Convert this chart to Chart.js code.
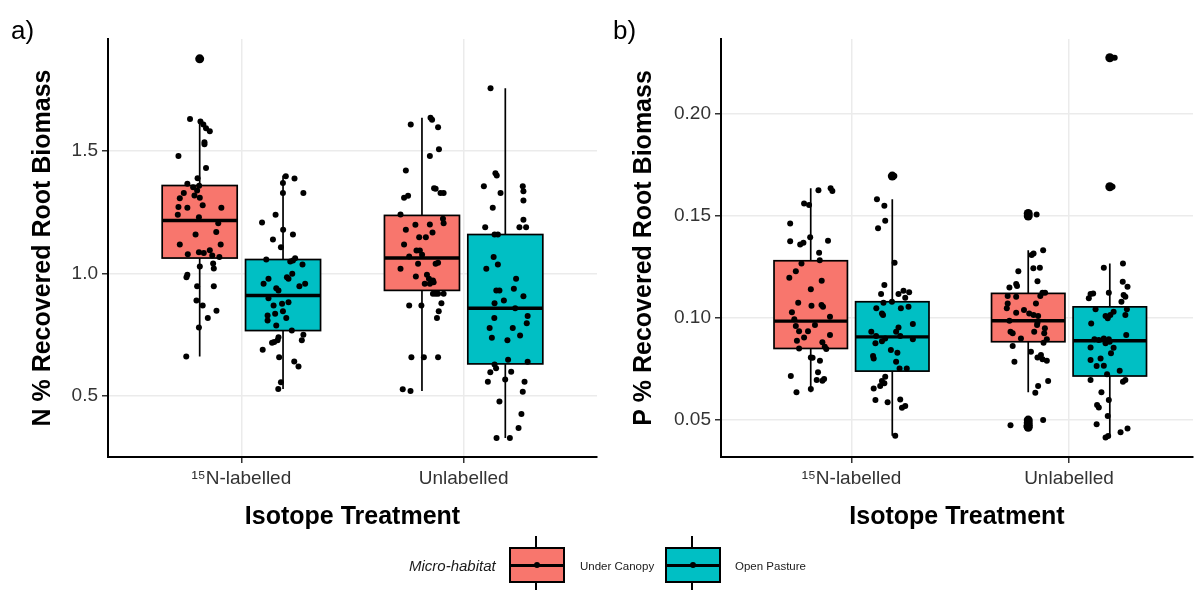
<!DOCTYPE html>
<html>
<head>
<meta charset="utf-8">
<script src="https://cdn.jsdelivr.net/npm/chart.js@4.4.0/dist/chart.umd.min.js"></script>
<style>
  body { margin: 0; background: #fff; font-family: 'Liberation Sans', Arial, sans-serif; }
  #wrap { position: relative; width: 1196px; height: 590px; overflow: hidden; }
  canvas { position: absolute; top: 0; }
  .tag { position: absolute; top: 16px; font-size: 26px; line-height: 28px; color: #000; }
  .leg { position: absolute; color: #1a1a1a; line-height: 20px; white-space: nowrap; }
  .key { position: absolute; top: 547px; width: 52px; height: 32px; border: 2px solid #000; }
  .key .med { position: absolute; left: 0; right: 0; top: 50%; height: 3px; margin-top: -1.5px; background: #000; }
  .key .dot { position: absolute; left: 50%; top: 50%; width: 6px; height: 6px; margin: -3px 0 0 -3px; border-radius: 3px; background: #000; }
  .wh { position: absolute; width: 2px; background: #000; }
</style>
</head>
<body>
<div id="wrap">
  <canvas id="n-chart" width="600" height="590" style="left:0;width:600px;height:590px"></canvas>
  <canvas id="p-chart" width="596" height="590" style="left:600px;width:596px;height:590px"></canvas>
  <div class="tag" style="left:11px">a)</div>
  <div class="tag" style="left:613px">b)</div>

  <div class="leg" style="left:409px;top:556px;font-size:15px;font-style:italic">Micro-habitat</div>
  <div class="wh" style="left:535px;top:536px;height:12px"></div>
  <div class="wh" style="left:535px;top:582px;height:8px"></div>
  <div class="key" style="left:509px;background:#F8766D"><div class="med"></div><div class="dot"></div></div>
  <div class="leg" style="left:580px;top:556px;font-size:11.5px">Under Canopy</div>
  <div class="wh" style="left:691px;top:536px;height:12px"></div>
  <div class="wh" style="left:691px;top:582px;height:8px"></div>
  <div class="key" style="left:665px;background:#00BFC4"><div class="med"></div><div class="dot"></div></div>
  <div class="leg" style="left:735px;top:556px;font-size:11.5px">Open Pasture</div>
</div>

<script>
// categories on the x axis, habitats = fill groups
var categories = ['\u00B9\u2075N-labelled', 'Unlabelled'];
var habitats = ['Under Canopy', 'Open Pasture'];

// box stats per category: [lower whisker, q1, median, q3, upper whisker]
var nCanopyBox  = [[0.661, 1.063, 1.216, 1.359, 1.631], [0.520, 0.931, 1.063, 1.237, 1.636]];
var nPastureBox = [[0.529, 0.767, 0.910, 1.057, 1.400], [0.329, 0.631, 0.858, 1.159, 1.756]];
var pCanopyBox  = [[0.0636, 0.0851, 0.0985, 0.1281, 0.1636], [0.0636, 0.0884, 0.0987, 0.1121, 0.1333]];
var pPastureBox = [[0.0423, 0.0740, 0.0908, 0.1080, 0.1582], [0.0415, 0.0716, 0.0889, 0.1055, 0.1268]];

// outliers per category
var nCanopyOut  = [[1.876], []];
var nPastureOut = [[], []];
var pCanopyOut  = [[], [0.1513, 0.1500, 0.0500, 0.0487, 0.0475, 0.0465]];
var pPastureOut = [[0.1696], [0.2276, 0.1644]];

// jittered observations [x, value]
var nCanopyPts = [
  [0.769,1.631],[0.816,1.620],[0.829,1.608],[0.841,1.593],[0.858,1.580],[0.834,1.536],[0.834,1.527],[0.717,1.479],
  [0.841,1.430],[0.803,1.389],[0.757,1.366],[0.783,1.352],[0.810,1.358],[0.801,1.339],[0.741,1.328],[0.723,1.307],
  [0.789,1.318],[0.813,1.309],[0.717,1.271],[0.757,1.268],[0.826,1.278],[0.910,1.268],[0.714,1.240],[0.809,1.230],
  [0.896,1.205],[0.794,1.159],[0.887,1.169],[0.723,1.118],[0.907,1.118],[0.759,1.078],[0.809,1.087],[0.831,1.084],
  [0.858,1.095],[0.869,1.073],[0.901,1.067],[0.813,1.029],[0.873,1.041],[0.876,1.020],[0.757,0.995],[0.753,0.985],
  [0.801,0.948],[0.876,0.948],[0.798,0.890],[0.826,0.869],[0.888,0.848],[0.849,0.818],[0.809,0.780],[0.752,0.661],
  [0.815,1.876],
  [1.762,1.608],[1.851,1.636],[1.858,1.627],[1.885,1.597],[1.889,1.507],[1.848,1.479],[1.740,1.420],[1.867,1.348],
  [1.874,1.346],[1.896,1.328],[1.910,1.328],[1.732,1.309],[1.750,1.317],[1.716,1.241],[1.907,1.223],[1.910,1.205],
  [1.783,1.199],[1.848,1.200],[1.740,1.178],[1.860,1.167],[1.800,1.148],[1.830,1.148],[1.732,1.118],[1.788,1.094],
  [1.803,1.094],[1.813,1.076],[1.755,1.069],[1.795,1.040],[1.716,1.019],[1.874,1.040],[1.885,1.044],[1.785,0.988],
  [1.835,0.995],[1.844,0.978],[1.862,0.971],[1.825,0.958],[1.848,0.958],[1.865,0.964],[1.874,0.917],[1.885,0.917],
  [1.910,0.917],[1.862,0.917],[1.755,0.869],[1.810,0.869],[1.900,0.879],[1.888,0.846],[1.880,0.818],[1.765,0.658],
  [1.821,0.658],[1.885,0.658],[1.726,0.528],[1.761,0.520]
];
var nPasturePts = [
  [1.200,1.397],[1.187,1.369],[1.239,1.388],[1.187,1.328],[1.279,1.328],[1.154,1.240],[1.093,1.208],[1.188,1.178],
  [1.232,1.159],[1.142,1.139],[1.178,1.107],[1.112,1.057],[1.220,1.049],[1.232,1.053],[1.242,1.062],[1.275,1.037],
  [1.229,0.999],[1.205,0.985],[1.212,0.978],[1.122,0.978],[1.100,0.958],[1.157,0.940],[1.167,0.931],[1.261,0.948],
  [1.287,0.958],[1.122,0.899],[1.212,0.883],[1.183,0.876],[1.145,0.869],[1.118,0.829],[1.152,0.836],[1.187,0.846],
  [1.202,0.818],[1.118,0.808],[1.157,0.788],[1.227,0.767],[1.167,0.740],[1.163,0.727],[1.279,0.750],[1.272,0.727],
  [1.138,0.717],[1.148,0.720],[1.096,0.689],[1.170,0.658],[1.238,0.641],[1.257,0.620],[1.178,0.556],[1.166,0.529],
  [2.121,1.756],[2.143,1.409],[2.149,1.400],[2.091,1.356],[2.166,1.328],[2.266,1.356],[2.269,1.336],[2.269,1.298],
  [2.131,1.268],[2.269,1.219],[2.097,1.189],[2.251,1.189],[2.281,1.189],[2.139,1.159],[2.154,1.159],[2.135,1.067],
  [2.154,1.037],[2.102,1.019],[2.236,0.978],[2.226,0.938],[2.147,0.931],[2.161,0.931],[2.269,0.907],[2.181,0.890],
  [2.139,0.879],[2.232,0.858],[2.288,0.826],[2.138,0.818],[2.284,0.797],[2.117,0.778],[2.221,0.778],[2.254,0.747],
  [2.127,0.738],[2.197,0.728],[2.200,0.648],[2.288,0.640],[2.139,0.629],[2.146,0.613],[2.120,0.597],[2.214,0.599],
  [2.109,0.558],[2.187,0.567],[2.274,0.558],[2.266,0.517],[2.161,0.478],[2.260,0.427],[2.247,0.369],[2.148,0.329],
  [2.208,0.329]
];
var pCanopyPts = [
  [0.848,0.1627],[0.904,0.1636],[0.912,0.1623],[0.782,0.1562],[0.805,0.1554],[0.718,0.1464],[0.810,0.1396],[0.718,0.1377],
  [0.764,0.1361],[0.779,0.1369],[0.892,0.1379],[0.851,0.1320],[0.854,0.1284],[0.770,0.1268],[0.744,0.1230],[0.714,0.1198],
  [0.863,0.1183],[0.813,0.1141],[0.755,0.1075],[0.816,0.1060],[0.862,0.1064],[0.869,0.1055],[0.726,0.1028],[0.901,0.1006],
  [0.737,0.0994],[0.744,0.0961],[0.832,0.0966],[0.759,0.0936],[0.800,0.0936],[0.782,0.0905],[0.901,0.0917],[0.749,0.0889],
  [0.866,0.0881],[0.759,0.0851],[0.877,0.0859],[0.884,0.0848],[0.813,0.0807],[0.821,0.0805],[0.855,0.0791],[0.721,0.0716],
  [0.846,0.0734],[0.874,0.0701],[0.866,0.0693],[0.840,0.0696],[0.813,0.0652],[0.747,0.0636],
  [1.881,0.1333],[1.828,0.1309],[1.837,0.1317],[1.767,0.1230],[1.836,0.1244],[1.866,0.1247],[1.855,0.1181],[1.726,0.1150],
  [1.757,0.1167],[1.761,0.1157],[1.878,0.1124],[1.890,0.1124],[1.718,0.1108],[1.757,0.1104],[1.868,0.1108],[1.718,0.1072],
  [1.848,0.1072],[1.714,0.1048],[1.757,0.1026],[1.793,0.1039],[1.817,0.1023],[1.837,0.1015],[1.858,0.1010],[1.726,0.0987],
  [1.855,0.0977],[1.853,0.0966],[1.889,0.0950],[1.886,0.0925],[1.731,0.0933],[1.741,0.0925],[1.840,0.0933],[1.898,0.0896],
  [1.779,0.0900],[1.883,0.0879],[1.741,0.0863],[1.825,0.0835],[1.855,0.0807],[1.871,0.0819],[1.878,0.0798],[1.898,0.0791],
  [1.749,0.0786],[1.904,0.0691],[1.858,0.0667],[1.845,0.0634],[1.731,0.0475],[1.881,0.0500],[1.815,0.0490],[1.805,0.0470],
  [1.851,0.1508],[1.810,0.1512]
];
var pPasturePts = [
  [1.197,0.1696],[1.117,0.1582],[1.151,0.1550],[1.155,0.1477],[1.122,0.1440],[1.198,0.1271],[1.151,0.1162],[1.136,0.1118],
  [1.216,0.1118],[1.239,0.1134],[1.265,0.1126],[1.247,0.1100],[1.147,0.1075],[1.186,0.1080],[1.262,0.1055],[1.227,0.1048],
  [1.114,0.1048],[1.145,0.1015],[1.140,0.1023],[1.282,0.0971],[1.216,0.0954],[1.205,0.0933],[1.091,0.0933],[1.113,0.0912],
  [1.224,0.0912],[1.282,0.0896],[1.155,0.0900],[1.110,0.0876],[1.140,0.0887],[1.181,0.0843],[1.211,0.0830],[1.099,0.0814],
  [1.102,0.0802],[1.205,0.0786],[1.221,0.0753],[1.254,0.0753],[1.155,0.0712],[1.140,0.0691],[1.151,0.0680],[1.132,0.0667],
  [1.102,0.0655],[1.110,0.0598],[1.166,0.0587],[1.224,0.0601],[1.247,0.0569],[1.232,0.0560],[1.201,0.0423],
  [2.210,0.2276],[2.200,0.1644],
  [2.248,0.1268],[2.160,0.1247],[2.183,0.1124],[2.247,0.1178],[2.269,0.1153],[2.099,0.1118],[2.111,0.1121],[2.091,0.1097],
  [2.251,0.1113],[2.259,0.1104],[2.241,0.1080],[2.122,0.1043],[2.205,0.1031],[2.266,0.1043],[2.259,0.1015],[2.168,0.1010],
  [2.190,0.1015],[2.178,0.0999],[2.102,0.0974],[2.263,0.0917],[2.183,0.0896],[2.160,0.0900],[2.137,0.0892],[2.117,0.0896],
  [2.168,0.0876],[2.187,0.0884],[2.099,0.0856],[2.205,0.0854],[2.193,0.0827],[2.099,0.0794],[2.145,0.0802],[2.127,0.0765],
  [2.160,0.0766],[2.233,0.0742],[2.175,0.0725],[2.099,0.0696],[2.259,0.0696],[2.248,0.0688],[2.149,0.0636],[2.183,0.0598],
  [2.129,0.0574],[2.137,0.0562],[2.178,0.0520],[2.127,0.0479],[2.237,0.0440],[2.269,0.0459],[2.168,0.0415],[2.180,0.0422]
];

var nTicks = [0.5, 1.0, 1.5];
var pTicks = [0.05, 0.10, 0.15, 0.20];

var canopyColor = '#F8766D', pastureColor = '#00BFC4';
var dodge = 0.1875, boxHalf = 0.16875;
var fontFamily = "'Liberation Sans', Arial, sans-serif";

// draws the boxplots under the jittered points, through the chart's scales
function boxLayer(groups) {
  return {
    id: 'boxLayer',
    beforeDatasetsDraw: function (chart) {
      var ctx = chart.ctx, xs = chart.scales.x, ys = chart.scales.y, a = chart.chartArea;
      ctx.save();
      ctx.beginPath();
      ctx.rect(a.left, a.top, a.right - a.left, a.bottom - a.top);
      ctx.clip();
      groups.forEach(function (g) {
        g.stats.forEach(function (s, i) {
          var c = i + 1 + g.shift;
          var cx = xs.getPixelForValue(c);
          var x0 = xs.getPixelForValue(c - boxHalf), x1 = xs.getPixelForValue(c + boxHalf);
          var lo = ys.getPixelForValue(s[0]), q1 = ys.getPixelForValue(s[1]), md = ys.getPixelForValue(s[2]),
              q3 = ys.getPixelForValue(s[3]), hi = ys.getPixelForValue(s[4]);
          ctx.strokeStyle = '#000';
          ctx.lineWidth = 1.7;
          ctx.beginPath();
          ctx.moveTo(cx, hi); ctx.lineTo(cx, q3);
          ctx.moveTo(cx, q1); ctx.lineTo(cx, lo);
          ctx.stroke();
          ctx.fillStyle = g.color;
          ctx.fillRect(x0, q3, x1 - x0, q1 - q3);
          ctx.strokeRect(x0, q3, x1 - x0, q1 - q3);
          ctx.lineWidth = 3.4;
          ctx.beginPath();
          ctx.moveTo(x0, md); ctx.lineTo(x1, md);
          ctx.stroke();
          ctx.fillStyle = '#000';
          g.out[i].forEach(function (v) {
            ctx.beginPath();
            ctx.arc(cx, ys.getPixelForValue(v), 4.5, 0, Math.PI * 2);
            ctx.fill();
          });
        });
      });
      ctx.restore();
    }
  };
}

function toXY(list) {
  return list.map(function (p) { return { x: p[0], y: p[1] }; });
}

function makeChart(id, o) {
  var ctx = document.getElementById(id).getContext('2d');
  return new Chart(ctx, {
    type: 'scatter',
    data: {
      datasets: [
        { label: habitats[0], data: toXY(o.canopyPts) },
        { label: habitats[1], data: toXY(o.pasturePts) }
      ]
    },
    options: {
      responsive: false,
      animation: false,
      events: [],
      layout: { padding: { top: 39, right: o.padRight, left: 0, bottom: 0 } },
      elements: { point: { radius: 3, borderWidth: 0, backgroundColor: '#000', hoverRadius: 3 } },
      plugins: { legend: { display: false }, tooltip: { enabled: false } },
      scales: {
        x: {
          type: 'linear', min: 0.4, max: o.xMax,
          afterBuildTicks: function (s) { s.ticks = categories.map(function (c, i) { return { value: i + 1 }; }); },
          afterFit: function (s) { s.height = 133; },
          ticks: {
            autoSkip: false, maxRotation: 0, padding: 4, color: '#333',
            font: { family: fontFamily, size: 19 },
            callback: function (v) { return categories[Math.round(v) - 1]; }
          },
          grid: { color: '#ebebeb', lineWidth: 1.5, tickColor: '#333', tickLength: 6, tickWidth: 1.5 },
          border: { color: '#000', width: 2 },
          title: {
            display: true, text: 'Isotope Treatment', color: '#000',
            font: { family: fontFamily, size: 25, weight: 'bold' },
            padding: { top: 0, bottom: 58 }
          }
        },
        y: {
          type: 'linear', min: o.yMin, max: o.yMax,
          afterBuildTicks: function (s) { s.ticks = o.ticks.map(function (v) { return { value: v }; }); },
          afterFit: function (s) { s.width = o.axisLeft; },
          ticks: {
            padding: 4, color: '#333',
            font: { family: fontFamily, size: 19 },
            callback: function (v) { return v.toFixed(o.digits); }
          },
          grid: { color: '#ebebeb', lineWidth: 1.5, tickColor: '#333', tickLength: 6, tickWidth: 1.5 },
          border: { color: '#000', width: 2 },
          title: {
            display: true, text: o.yTitle, color: '#000',
            font: { family: fontFamily, size: 25, weight: 'bold' },
            padding: { top: o.titlePad, bottom: 0 }
          }
        }
      }
    },
    plugins: [boxLayer([
      { stats: o.canopyBox, out: o.canopyOut, color: canopyColor, shift: -dodge },
      { stats: o.pastureBox, out: o.pastureOut, color: pastureColor, shift: dodge }
    ])]
  });
}

makeChart('n-chart', {
  canopyPts: nCanopyPts, pasturePts: nPasturePts,
  canopyBox: nCanopyBox, pastureBox: nPastureBox, canopyOut: nCanopyOut, pastureOut: nPastureOut,
  ticks: nTicks, digits: 1, yMin: 0.251, yMax: 1.957, xMax: 2.6,
  yTitle: 'N % Recovered Root Biomass', axisLeft: 108, titlePad: 28, padRight: 2
});

makeChart('p-chart', {
  canopyPts: pCanopyPts, pasturePts: pPasturePts,
  canopyBox: pCanopyBox, pastureBox: pPastureBox, canopyOut: pCanopyOut, pastureOut: pPastureOut,
  ticks: pTicks, digits: 2, yMin: 0.0319, yMax: 0.2368, xMax: 2.57,
  yTitle: 'P % Recovered Root Biomass', axisLeft: 121, titlePad: 29, padRight: 0
});
</script>
</body>
</html>
